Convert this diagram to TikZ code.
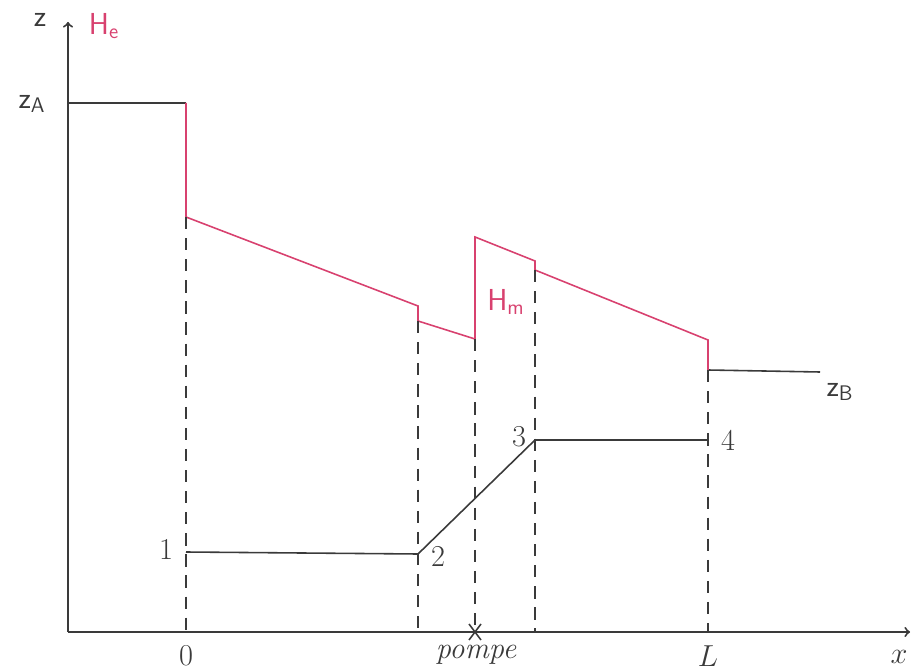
\documentclass[tikz,border=0pt]{standalone}
\usetikzlibrary{positioning}

\definecolor{headred}{HTML}{D8416F}
\definecolor{inkgray}{HTML}{3A3A3A}

\begin{document}
\begin{tikzpicture}[
    x={(0.02cm,0cm)}, y={(0cm,-0.02cm)},
    axis/.style={->, >=to, line width=1.1pt, inkgray},
    pipe/.style={line width=0.9pt, inkgray},
    head/.style={line width=0.9pt, headred},
    guide/.style={line width=0.8pt, inkgray, dash pattern=on 7pt off 5pt},
    lbl/.style={font=\LARGE, text=inkgray},
    redlbl/.style={font=\LARGE\bfseries, text=headred},
]
\useasboundingbox (0,0) rectangle (913,672);

% Key points of the line
\coordinate (o) at (68,632);
\coordinate (ztop) at (68,22);
\coordinate (xend) at (910,632);
\coordinate (A) at (68,103);
\coordinate (e0) at (186,103);
\coordinate (e0b) at (186,217);
\coordinate (e2a) at (418,306);
\coordinate (e2b) at (418,321);
\coordinate (pa) at (475,339);
\coordinate (pb) at (475,237);
\coordinate (e3a) at (535,261);
\coordinate (e3b) at (535,270);
\coordinate (eLa) at (708,340);
\coordinate (eLb) at (708,370);
\coordinate (B) at (820,372);

% Pipe profile points
\coordinate (p1) at (186,552);
\coordinate (p2) at (418,554);
\coordinate (p3) at (535,440);
\coordinate (p4) at (708,440);

% Axes
\draw[axis] (o) -- (ztop);
\draw[axis] (o) -- (xend);

% Reservoir levels
\draw[pipe] (A) -- (e0);
\draw[pipe] (eLb) -- (B);

% Energy line
\draw[head] (e0) -- (e0b) -- (e2a) -- (e2b) -- (pa) -- (pb) -- (e3a) -- (e3b) -- (eLa) -- (eLb);

% Pipe
\draw[pipe] (p1) -- (p2) -- (p3) -- (p4);

% Guides down to the x axis
\draw[guide] (e0b) -- (186,632);
\draw[guide] (e2b) -- (418,632);
\draw[guide] (pa) -- (475,632);
\draw[guide] (e3b) -- (535,632);
\draw[guide] (eLb) -- (708,632);

% Pump mark
\draw[pipe] (469,624) -- (481,640) (481,624) -- (469,640);

% Labels
\node[lbl] (zlbl) at (40,20) {$\mathsf{z}$};
\node[redlbl] (helbl) at (104,26) {$\mathsf{H}_{\mathsf{e}}$};
\node[lbl] (zalbl) at (32,104) {$\mathsf{z}_{\mathsf{A}}$};
\node[redlbl] (hmlbl) at (506,302) {$\mathsf{H}_{\mathsf{m}}$};
\node[lbl] (zblbl) at (840,392) {$\mathsf{z}_{\mathsf{B}}$};
\node[lbl] (n1) at (166,550) {$1$};
\node[lbl] (n2) at (438,557) {$2$};
\node[lbl] (n3) at (519,437) {$3$};
\node[lbl] (n4) at (728,441) {$4$};
\node[lbl] (x0) at (186,656) {$0$};
\node[lbl] (pump) at (476,655) {\itshape pompe};
\node[lbl] (xL) at (708,656) {$L$};
\node[lbl] (xlbl) at (899,657) {$x$};

\end{tikzpicture}
\end{document}
